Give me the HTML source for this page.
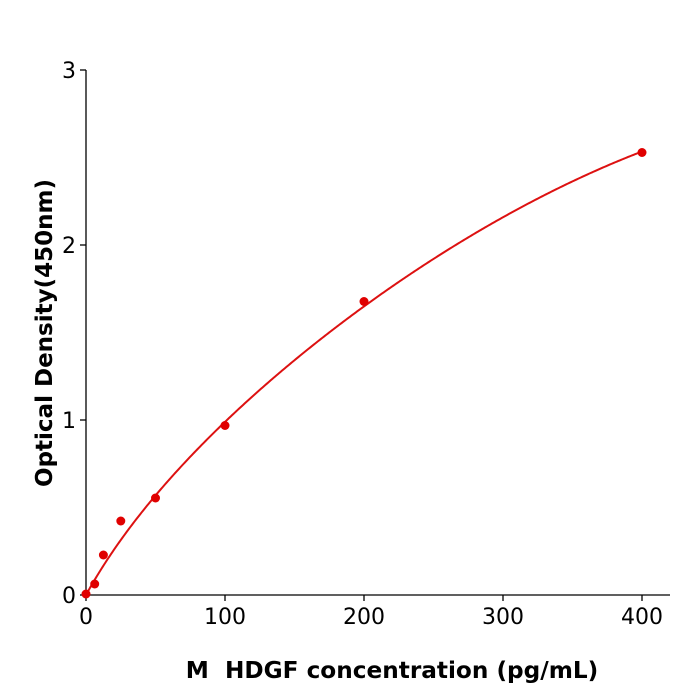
<!DOCTYPE html>
<html><head><style>body{margin:0;background:#fff}svg{display:block}</style></head><body>
<svg id="s" width="700" height="700" xmlns="http://www.w3.org/2000/svg" font-family="DejaVu Sans, Liberation Sans, sans-serif">
<g stroke="#000" stroke-width="1.3" fill="none">
<line x1="86" y1="70" x2="86" y2="595"/>
<line x1="86" y1="595" x2="670" y2="595"/>
<line x1="80" y1="70" x2="86" y2="70"/><line x1="80" y1="245" x2="86" y2="245"/><line x1="80" y1="420" x2="86" y2="420"/><line x1="80" y1="595" x2="86" y2="595"/>
<line x1="86" y1="595" x2="86" y2="601"/><line x1="225" y1="595" x2="225" y2="601"/><line x1="364" y1="595" x2="364" y2="601"/><line x1="503" y1="595" x2="503" y2="601"/><line x1="642" y1="595" x2="642" y2="601"/>
</g>
<g font-size="22" fill="#000" text-anchor="end">
<text x="76" y="78">3</text><text x="76" y="253">2</text><text x="76" y="428">1</text><text x="76" y="603">0</text>
</g>
<g font-size="22" fill="#000" text-anchor="middle">
<text x="86" y="624">0</text><text x="225" y="624">100</text><text x="364" y="624">200</text><text x="503" y="624">300</text><text x="642" y="624">400</text>
</g>
<text x="392" y="678" font-size="23.2" font-weight="bold" text-anchor="middle" style="white-space:pre" xml:space="preserve">M  HDGF concentration (pg/mL)</text>
<text transform="translate(52,333) rotate(-90)" font-size="23" font-weight="bold" text-anchor="middle">Optical Density(450nm)</text>
<path id="c" fill="none" stroke="#dd1111" stroke-width="2"/>
<g fill="#e00000">
<circle cx="86" cy="594" r="4.5"/><circle cx="94.7" cy="584" r="4.5"/><circle cx="103.4" cy="555" r="4.5"/><circle cx="120.8" cy="521" r="4.5"/><circle cx="155.5" cy="498" r="4.5"/><circle cx="225" cy="425.5" r="4.5"/><circle cx="364" cy="301.5" r="4.5"/><circle cx="642" cy="152.5" r="4.5"/>
</g>
</svg>
<script>
var d="";
for(var i=0;i<=400;i++){var x=i,u=x/400;var y=0.985*(Math.sqrt(1+x/34)-1)+0.4*u*u*(1-u);
d+=(i?" L":"M")+(86+x*1.39).toFixed(2)+","+(595-y*175).toFixed(2);}
document.getElementById("c").setAttribute("d",d);
</script>
</body></html>
